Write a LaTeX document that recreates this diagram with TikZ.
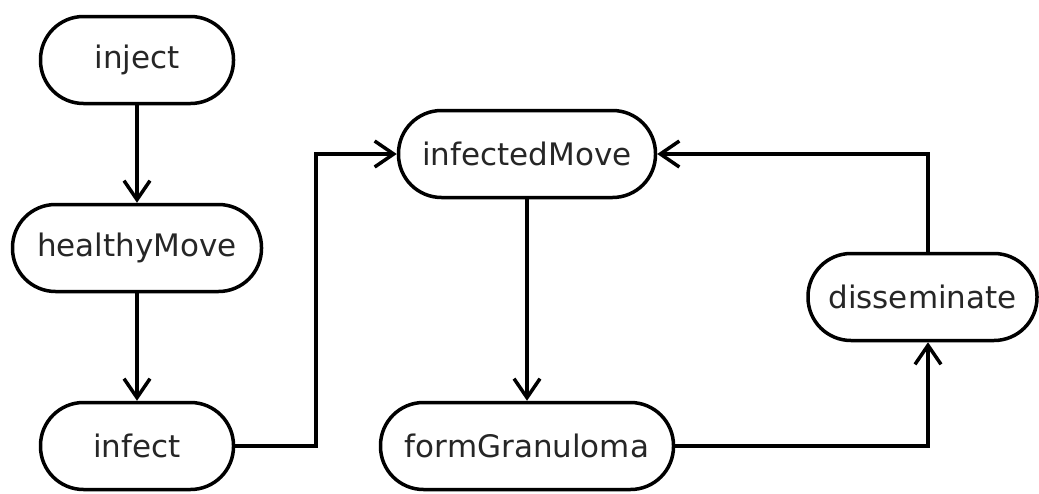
\documentclass[tikz,border=0pt]{standalone}
\usepackage{fontspec}
\setmainfont{DejaVu Sans}
\usetikzlibrary{arrows.meta}
\begin{document}
\begin{tikzpicture}[x=1pt,y=-1pt,
  state/.style={draw=black, line width=3.5pt, fill=white, rounded corners=43pt,
    minimum height=87pt, inner sep=0pt, text=black!85,
    font=\fontsize{31}{37}\selectfont},
  flow/.style={draw=black, line width=3.5pt,
    -{Straight Barb[length=19pt,width=26pt,line width=3.5pt]}}]
\useasboundingbox (0,0) rectangle (1039,493);
\node[state, minimum width=193pt] (inj) at (137,60) {inject};
\node[state, minimum width=249pt] (hm) at (137,248) {healthyMove};
\node[state, minimum width=193pt] (inf) at (137,446) {infect};
\node[state, minimum width=257pt] (im) at (527,154) {infectedMove};
\node[state, minimum width=293pt] (fg) at (527,446) {formGranuloma};
\node[state, minimum width=229pt] (dis) at (922.5,297) {disseminate};
\coordinate (lx) at (316,154);
\coordinate (rx) at (928,297);
\draw[flow] (inj) -- (hm);
\draw[flow] (hm) -- (inf);
\draw[flow] (inf.east) -| (lx) -- (im.west);
\draw[flow] (im) -- (fg);
\draw[flow] (fg.east) -| (rx |- dis.south);
\draw[flow] (rx |- dis.north) |- (im.east);
\end{tikzpicture}
\end{document}
